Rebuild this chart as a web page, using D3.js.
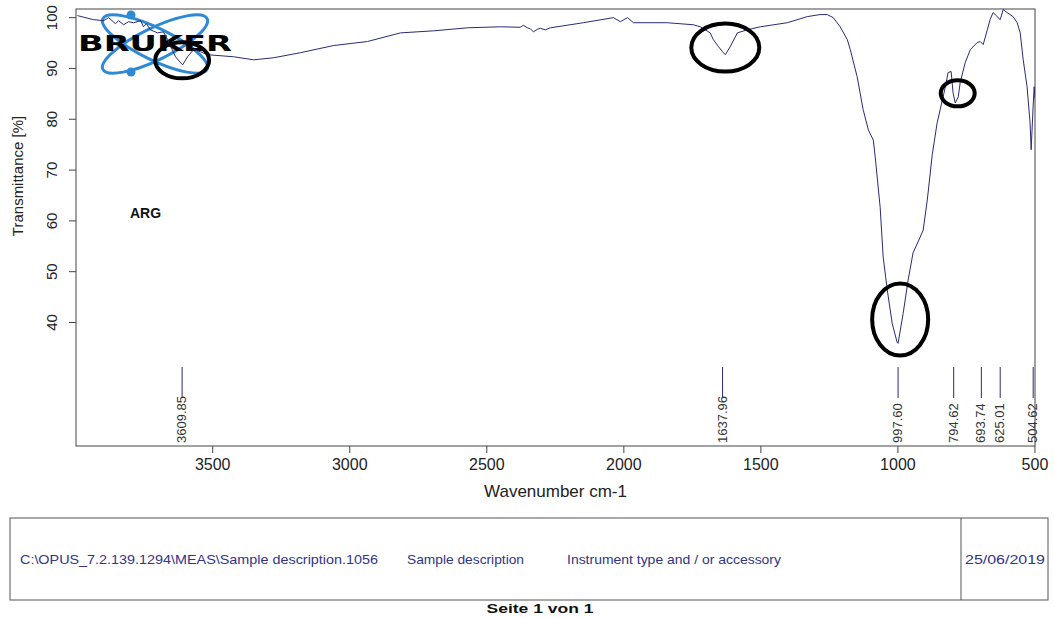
<!DOCTYPE html>
<html>
<head>
<meta charset="utf-8">
<script src="https://cdn.jsdelivr.net/npm/d3@7"></script>
<style>
  body { margin: 0; background: #fff; }
  text { font-family: "Liberation Sans", Arial, sans-serif; }
</style>
</head>
<body>
<script>
// spectrum
var wavenumbers = [3992,3933,3896,3878,3853,3842,3823,3805,3787,3761,3751,3740,3725,3700,3678,3663,3634,3608,3590,3568,3543,3517,3422,3349,3276,3178,3058,2934,2813,2693,2569,2449,2376,2365,2350,2339,2328,2314,2303,2285,2266,2146,2036,2011,1985,1963,1840,1745,1719,1683,1672,1653,1638,1628,1610,1584,1548,1500,1402,1329,1282,1256,1234,1209,1183,1172,1147,1125,1106,1088,1081,1063,1052,1037,1019,1001,997.6,979,961,943,917,906,891,873,855,836,825,815,804,797,789,778,771,753,734,709,698,687,672,662,651,625,614,600,578,563,552,541,527,516,512,505,501,498];
var transmittance = [100.3,99.5,99.3,99.9,98.7,99.3,98.5,99.1,98.9,99.3,98.1,98.7,97.5,96.9,97.1,95.6,92.2,90.6,92.2,93.6,93.2,92.6,92.2,91.6,92.0,93.0,94.4,95.2,96.9,97.3,97.9,98.1,98.0,98.4,97.9,97.7,97.1,97.6,97.8,97.5,97.9,98.9,99.9,99.1,99.9,98.9,98.9,98.5,98.1,96.9,95.6,94.2,93.2,92.6,94.2,96.9,97.5,98.1,98.9,100.1,100.5,100.5,99.9,98.1,95.6,93.6,88.3,81.8,77.8,75.8,72.5,62.6,52.8,46.3,39.7,36.0,35.8,41.7,48.2,53.6,56.7,58.1,64.0,72.9,79.2,83.7,86.3,89.1,89.3,85.1,83.1,84.3,87.1,91.0,93.6,95.0,95.2,94.6,97.5,99.5,100.9,99.5,101.5,100.9,100.1,98.9,96.9,91.6,86.3,79.2,73.9,82.3,86.3,84];
var peaks = [3609.85, 1637.96, 997.60, 794.62, 693.74, 625.01, 504.62];
var circled = [[3609.85, 91.5], [1628, 94.0], [780, 85.0], [990, 40.5]];
var xTicks = [3500, 3000, 2500, 2000, 1500, 1000, 500];
var yTicks = [40, 50, 60, 70, 80, 90, 100];
var footerTexts = ["C:\\OPUS_7.2.139.1294\\MEAS\\Sample description.1056", "Sample description", "Instrument type and / or accessory", "25/06/2019"];

var width = 1054, height = 618;
var margin = { top: 9, right: 19, bottom: 172, left: 76 };
var lineColor = "#2a2a78";

var svg = d3.select("body").append("svg")
  .attr("width", width)
  .attr("height", height);

var xScale = d3.scaleLinear()
  .domain([3997, 498])
  .range([margin.left, width - margin.right]);

var yScale = d3.scaleLinear()
  .domain([15.6, 101.6])
  .range([height - margin.bottom, margin.top]);

var plotBottom = height - margin.bottom;

svg.append("clipPath").attr("id", "clip")
  .append("rect")
  .attr("x", margin.left).attr("y", margin.top)
  .attr("width", width - margin.left - margin.right)
  .attr("height", plotBottom - margin.top);

// bruker logo
var logo = svg.append("g").attr("transform", "translate(155,44)");
logo.append("ellipse").attr("rx", 58).attr("ry", 16).attr("transform", "rotate(26)")
  .attr("fill", "none").attr("stroke", "#2f8ad6").attr("stroke-width", 3);
logo.append("ellipse").attr("rx", 58).attr("ry", 16).attr("transform", "rotate(-26)")
  .attr("fill", "none").attr("stroke", "#2f8ad6").attr("stroke-width", 3);
logo.append("circle").attr("cx", -24).attr("cy", -29).attr("r", 4.5).attr("fill", "#2f8ad6");
logo.append("circle").attr("cx", -24).attr("cy", 28).attr("r", 4.5).attr("fill", "#2f8ad6");

// box
svg.append("rect")
  .attr("x", margin.left).attr("y", margin.top)
  .attr("width", width - margin.left - margin.right)
  .attr("height", plotBottom - margin.top)
  .attr("fill", "none").attr("stroke", "#444").attr("stroke-width", 1);

// spectrum
var line = d3.line()
  .x(function(d) { return xScale(d[0]); })
  .y(function(d) { return yScale(d[1]); });

svg.append("path")
  .datum(d3.zip(wavenumbers, transmittance))
  .attr("clip-path", "url(#clip)")
  .attr("d", line)
  .attr("fill", "none")
  .attr("stroke", lineColor)
  .attr("stroke-width", 1);

logo.append("text")
  .attr("x", -77).attr("y", 7)
  .attr("textLength", 154).attr("lengthAdjust", "spacingAndGlyphs")
  .style("font-family", "'DejaVu Sans', sans-serif")
  .style("font-weight", "900").style("font-size", "21px")
  .attr("fill", "#000")
  .text("BRUKER");

// axes
var xAxis = d3.axisBottom(xScale).tickValues(xTicks).tickSize(7).tickPadding(6).tickFormat(d3.format("d"));
var gx = svg.append("g")
  .attr("transform", "translate(0," + plotBottom + ")")
  .call(xAxis);
gx.select(".domain").remove();
gx.selectAll("line").attr("stroke", "#444");
gx.selectAll("text").style("font-size", "16px").attr("fill", "#222");

var yAxis = d3.axisLeft(yScale).tickValues(yTicks).tickSize(7).tickPadding(0);
var gy = svg.append("g")
  .attr("transform", "translate(" + margin.left + ",0)")
  .call(yAxis);
gy.select(".domain").remove();
gy.selectAll("line").attr("stroke", "#444");
gy.selectAll("text")
  .attr("x", null).attr("dy", null)
  .attr("transform", "translate(-19,0) rotate(-90)")
  .style("text-anchor", "middle")
  .style("font-size", "15px").attr("fill", "#222");

svg.append("text")
  .attr("x", (margin.left + width - margin.right) / 2)
  .attr("y", plotBottom + 51)
  .style("text-anchor", "middle")
  .style("font-size", "17px").attr("fill", "#222")
  .text("Wavenumber cm-1");

svg.append("text")
  .attr("transform", "translate(23,176) rotate(-90)")
  .style("text-anchor", "middle")
  .style("font-size", "15px").attr("fill", "#222")
  .text("Transmittance [%]");

svg.append("text")
  .attr("x", 130).attr("y", 218)
  .style("font-size", "14px").style("font-weight", "bold").attr("fill", "#111")
  .text("ARG");

// peak picks
var pk = svg.selectAll(".peak").data(peaks).enter().append("g").attr("class", "peak");
pk.append("line")
  .attr("x1", function(d) { return xScale(d); })
  .attr("x2", function(d) { return xScale(d); })
  .attr("y1", 367).attr("y2", 398)
  .attr("stroke", lineColor).attr("stroke-width", 1);
pk.append("text")
  .attr("transform", function(d) { return "translate(" + (xScale(d) + 4) + ",443) rotate(-90)"; })
  .style("font-family", "'Liberation Sans Narrow', 'Arial Narrow', sans-serif")
  .style("font-size", "13px").attr("fill", "#333")
  .text(function(d) { return d.toFixed(2); });

// hand drawn circles
var circleSizes = [[27, 18], [34, 24], [17, 13], [28, 36]];
svg.selectAll(".ring").data(circled).enter().append("ellipse")
  .attr("class", "ring")
  .attr("cx", function(d) { return xScale(d[0]); })
  .attr("cy", function(d) { return yScale(d[1]); })
  .attr("rx", function(d, i) { return circleSizes[i][0]; })
  .attr("ry", function(d, i) { return circleSizes[i][1]; })
  .attr("fill", "none").attr("stroke", "#000").attr("stroke-width", 4);

// footer
svg.append("rect")
  .attr("x", 10).attr("y", 518).attr("width", 1038).attr("height", 82)
  .attr("fill", "none").attr("stroke", "#555");
svg.append("line")
  .attr("x1", 961).attr("x2", 961).attr("y1", 518).attr("y2", 600)
  .attr("stroke", "#555");
var footX = [20, 407, 567, 965];
var footW = [358, 117, 214, 80];
svg.selectAll(".foot").data(footerTexts).enter().append("text")
  .attr("class", "foot")
  .attr("x", function(d, i) { return footX[i]; })
  .attr("y", 564)
  .attr("textLength", function(d, i) { return footW[i]; })
  .attr("lengthAdjust", "spacingAndGlyphs")
  .style("font-size", "13px").attr("fill", "#33338a")
  .text(function(d) { return d; });

svg.append("text")
  .attr("x", 540).attr("y", 613)
  .attr("textLength", 107).attr("lengthAdjust", "spacingAndGlyphs")
  .style("text-anchor", "middle")
  .style("font-size", "13px").style("font-weight", "bold").attr("fill", "#111")
  .text("Seite 1 von 1");
</script>
</body>
</html>
